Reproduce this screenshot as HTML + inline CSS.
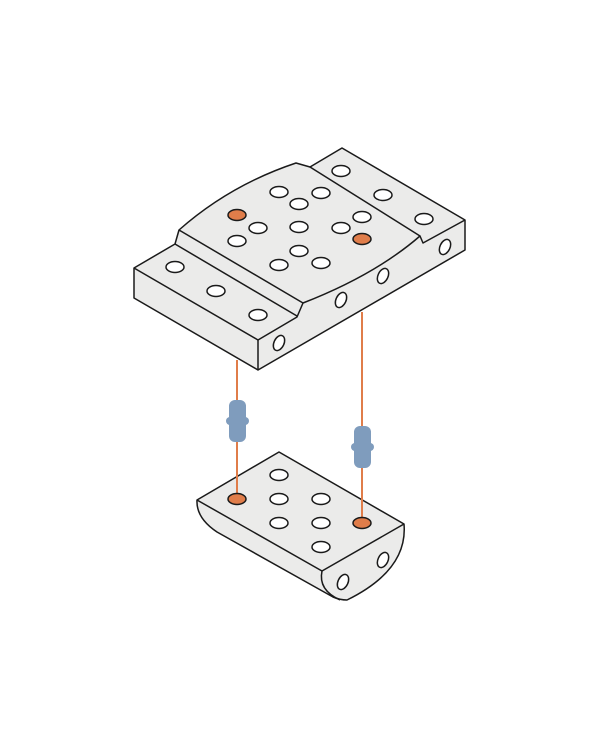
<!DOCTYPE html>
<html><head><style>body{margin:0;background:#fff}svg{display:block}</style></head>
<body>
<svg width="600" height="750" viewBox="0 0 600 750" xmlns="http://www.w3.org/2000/svg">
<g stroke="#1a1a1a" stroke-width="1.5" stroke-linejoin="round" fill="#ebebea">
<!-- top block -->
<path d="M134,268 L175,244 L179,230 Q230,185 296,163 L310,167 L342,148 L465,220 L465,250 L258,370 L134,298 Z"/>
<path d="M134,268 L258,340 L297,317 L303,303 Q375,275 420,236 L423,243 L465,220" fill="none"/>
<path d="M258,340 L258,370" fill="none"/>
<path d="M175,244 L297,316" fill="none"/>
<path d="M179,230 L303,303" fill="none"/>
<path d="M310,167 L420,236" fill="none"/>
<g fill="#fff">
<ellipse cx="279" cy="192" rx="9" ry="5.5"/><ellipse cx="321" cy="193" rx="9" ry="5.5"/>
<ellipse cx="299" cy="204" rx="9" ry="5.5"/><ellipse cx="258" cy="228" rx="9" ry="5.5"/>
<ellipse cx="299" cy="227" rx="9" ry="5.5"/><ellipse cx="237" cy="241" rx="9" ry="5.5"/>
<ellipse cx="341" cy="228" rx="9" ry="5.5"/><ellipse cx="362" cy="217" rx="9" ry="5.5"/>
<ellipse cx="299" cy="251" rx="9" ry="5.5"/><ellipse cx="279" cy="265" rx="9" ry="5.5"/>
<ellipse cx="321" cy="263" rx="9" ry="5.5"/>
<ellipse cx="175" cy="267" rx="9" ry="5.5"/><ellipse cx="216" cy="291" rx="9" ry="5.5"/>
<ellipse cx="258" cy="315" rx="9" ry="5.5"/>
<ellipse cx="341" cy="171" rx="9" ry="5.5"/><ellipse cx="383" cy="195" rx="9" ry="5.5"/>
<ellipse cx="424" cy="219" rx="9" ry="5.5"/>
<ellipse cx="279" cy="343" rx="5" ry="8" transform="rotate(25 279 343)"/>
<ellipse cx="341" cy="300" rx="5" ry="8" transform="rotate(25 341 300)"/>
<ellipse cx="383" cy="276" rx="5" ry="8" transform="rotate(25 383 276)"/>
<ellipse cx="445" cy="247" rx="5" ry="8" transform="rotate(25 445 247)"/>
</g>
<ellipse cx="237" cy="215" rx="9" ry="5.5" fill="#e07d4a"/>
<ellipse cx="362" cy="239" rx="9" ry="5.5" fill="#e07d4a"/>
</g>
<!-- bottom block -->
<g stroke="#1a1a1a" stroke-width="1.5" stroke-linejoin="round" fill="#ebebea">
<path d="M197,500 L279,452 L404,524 Q408,570 347,600 Q340,600 333,597 L217,532 Q196,518 197,500 Z"/>
<path d="M197,500 L322,571 L404,524" fill="none"/>
<path d="M322,571 Q318,590 340,600" fill="none"/>
<g fill="#fff">
<ellipse cx="279" cy="475" rx="9" ry="5.5"/><ellipse cx="279" cy="499" rx="9" ry="5.5"/>
<ellipse cx="321" cy="499" rx="9" ry="5.5"/><ellipse cx="279" cy="523" rx="9" ry="5.5"/>
<ellipse cx="321" cy="523" rx="9" ry="5.5"/><ellipse cx="321" cy="547" rx="9" ry="5.5"/>
<ellipse cx="343" cy="582" rx="5" ry="8" transform="rotate(25 343 582)"/>
<ellipse cx="383" cy="560" rx="5" ry="8" transform="rotate(25 383 560)"/>
</g>
</g>
<!-- orange wires -->
<g stroke="#e07d4a" stroke-width="2">
<line x1="237" y1="360" x2="237" y2="499"/>
<line x1="362" y1="312" x2="362" y2="523"/>
</g>
<g fill="#e07d4a" stroke="#1a1a1a" stroke-width="1.5">
<ellipse cx="237" cy="499" rx="9" ry="5.5"/>
<ellipse cx="362" cy="523" rx="9" ry="5.5"/>
</g>
<!-- connectors -->
<g fill="#7f9cbd">
<rect x="229" y="400" width="17" height="42" rx="6"/>
<rect x="226" y="417" width="23" height="8" rx="4"/>
<rect x="354" y="426" width="17" height="42" rx="6"/>
<rect x="351" y="443" width="23" height="8" rx="4"/>
</g>
</svg>
</body></html>
